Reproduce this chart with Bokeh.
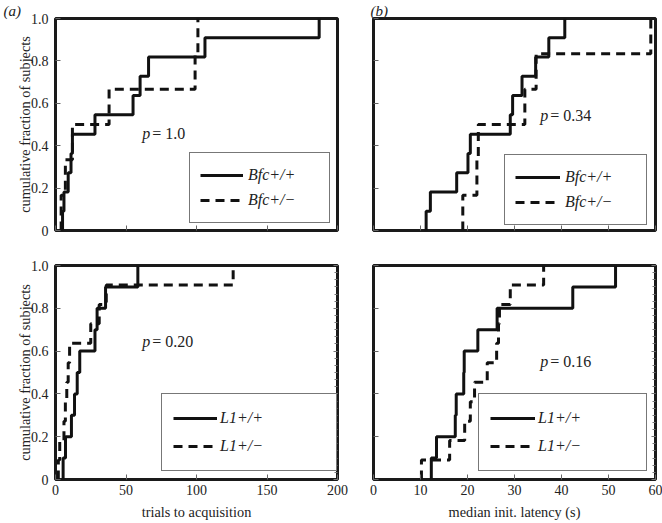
from bokeh.plotting import figure
from bokeh.layouts import gridplot
from bokeh.models import (Range1d, Legend, LegendItem, Label, LinearAxis,
                          FixedTicker, SingleIntervalTicker, Title)
from bokeh.embed import file_html
from bokeh.resources import INLINE

FONT = "'Liberation Serif', 'DejaVu Serif', serif"

# ---- data ----
bfc_wt_trials = [5, 6, 9, 11, 12, 28, 55, 60, 66, 106, 187]
bfc_het_trials = [4, 7, 12, 38, 99, 101]
bfc_wt_latency = [11.2, 12.1, 17.7, 20.1, 20.6, 29.1, 29.6, 31.6, 34.5, 37.3, 40.7]
bfc_het_latency = [19.0, 22.0, 22.3, 32.2, 34.6, 59.0]
l1_wt_trials = [5.4, 7.1, 11.3, 13.5, 15.4, 17.2, 28.0, 29.5, 35.5, 58.4]
l1_het_trials = [2, 3, 6, 7, 8, 9, 10, 25, 31, 36, 126]
l1_wt_latency = [12.3, 13.4, 17.4, 17.6, 19.2, 19.3, 22.2, 26.3, 42.4, 51.5]
l1_het_latency = [10.2, 16.2, 19.4, 20.6, 21.5, 24.2, 26.2, 26.6, 26.8, 29.1, 36.2]

bfc_names = ["Bfc+/+", "Bfc+/\u2212"]
l1_names = ["L1+/+", "L1+/\u2212"]
p_values = ["1.0", "0.34", "0.20", "0.16"]

y_ticks = [0, 0.2, 0.4, 0.6, 0.8, 1.0]
y_tick_labels = {0: "0", 1: "1.0"}
trial_ticks = [0, 50, 100, 150, 200]
latency_ticks = [0, 10, 20, 30, 40, 50, 60]
trial_range = (0, 200)
latency_range = (0, 60)


def ecdf(vals):
    xs = sorted(vals)
    n = len(xs)
    return [xs[0]] + xs, [0.0] + [(i + 1) / n for i in range(n)]


def hide_labels(ax):
    ax.major_label_text_color = None
    ax.major_label_text_font_size = "1px"
    ax.major_label_standoff = 0


def make_panel(width, height, mb, xr, xticks, wt, het, names, ptxt, ppos,
               leg, show_x, show_y, xlabel, minor_right, tag, tag_off):
    p = figure(width=width, height=height, output_backend="svg",
               toolbar_location=None, x_range=Range1d(*xr),
               y_range=Range1d(0, 1),
               min_border_left=mb[0], min_border_right=mb[1],
               min_border_top=mb[2], min_border_bottom=mb[3])
    p.grid.visible = False
    p.outline_line_color = "#1a1a1a"
    p.outline_line_width = 3
    p.outline_line_alpha = 1
    p.background_fill_color = "white"
    p.border_fill_color = "white"

    xa = p.xaxis[0]
    ya = p.yaxis[0]
    xa.ticker = FixedTicker(ticks=xticks)
    ya.ticker = FixedTicker(ticks=y_ticks)
    for ax in (xa, ya):
        ax.axis_line_color = None
        ax.major_tick_in = 5
        ax.major_tick_out = 0
        ax.minor_tick_in = 0
        ax.minor_tick_out = 0
        ax.major_tick_line_color = "#666"
        ax.major_label_text_font = FONT
        ax.major_label_text_font_size = "14px"
        ax.major_label_text_color = "#222"
        ax.axis_label_text_font = FONT
        ax.axis_label_text_font_style = "normal"
        ax.axis_label_text_font_size = "14.3px"
        ax.axis_label_text_color = "#222"
    ya.major_label_overrides = dict(y_tick_labels)
    if show_x:
        xa.axis_label = xlabel
        xa.major_label_standoff = 5
        xa.axis_label_standoff = 6
    else:
        hide_labels(xa)
    if show_y:
        ya.axis_label = "cumulative fraction of subjects"
        ya.major_label_standoff = 7
        ya.axis_label_standoff = -5
    else:
        hide_labels(ya)

    if minor_right:
        ra = LinearAxis(ticker=SingleIntervalTicker(interval=0.2, num_minor_ticks=6))
        ra.axis_line_color = None
        hide_labels(ra)
        ra.major_tick_in = 4
        ra.major_tick_out = 0
        ra.minor_tick_in = 3
        ra.minor_tick_out = 0
        ra.major_tick_line_color = "#777"
        ra.minor_tick_line_color = "#777"
        p.add_layout(ra, "right")

    if tag:
        p.add_layout(Title(text=tag, align="left", offset=tag_off, standoff=0,
                           text_font=FONT, text_font_style="italic",
                           text_font_size="15px", text_color="#222"), "above")

    x1, y1 = ecdf(wt)
    x2, y2 = ecdf(het)
    r1 = p.step(x1, y1, mode="after", line_color="#111", line_width=3)
    r2 = p.step(x2, y2, mode="after", line_color="#111", line_width=3,
                line_dash="9 6")

    p.add_layout(Label(x=ppos[0], y=ppos[1], text="p", text_font=FONT,
                       text_font_style="italic", text_font_size="16px",
                       text_color="#222", text_baseline="middle"))
    p.add_layout(Label(x=ppos[0], y=ppos[1], x_offset=10, text="= " + ptxt,
                       text_font=FONT, text_font_size="16px",
                       text_color="#222", text_baseline="middle"))

    lx, ly, pad, gh, sp, gw, so, lw = leg
    legend = Legend(items=[LegendItem(label=names[0], renderers=[r1]),
                           LegendItem(label=names[1], renderers=[r2])],
                    location=(lx, ly), padding=pad, spacing=sp,
                    glyph_height=gh, glyph_width=gw, label_standoff=so,
                    label_width=lw, margin=0, border_line_color="#777",
                    border_line_width=1, border_line_alpha=1,
                    background_fill_color="white", background_fill_alpha=1,
                    label_text_font=FONT, label_text_font_style="italic",
                    label_text_font_size="16px", label_text_color="#222")
    p.add_layout(legend)
    return p


# top row: frames at y 15..230 ; bottom row: frames at y 265..480
pa = make_panel(355, 257, (55, 18, 15, 27), trial_range, trial_ticks,
                bfc_wt_trials, bfc_het_trials, bfc_names, p_values[0],
                (61.5, 0.457), (134, 7, 10, 24, 1, 43, 5, 71),
                False, True, "", False, "(a)", -52)
pb = make_panel(307, 257, (18, 7, 15, 27), latency_range, latency_ticks,
                bfc_wt_latency, bfc_het_latency, bfc_names, p_values[1],
                (35.5, 0.544), (131, 5, 10, 24, 1, 45, 5, 71),
                False, False, "", False, "(b)", -3)
pc = make_panel(355, 265, (55, 18, 8, 42), trial_range, trial_ticks,
                l1_wt_trials, l1_het_trials, l1_names, p_values[2],
                (61.5, 0.647), (106, 8, 11, 26, 2, 44, 3, 105),
                True, True, "trials to acquisition", True, None, None)
pd_ = make_panel(307, 265, (18, 7, 8, 42), latency_range, latency_ticks,
                 l1_wt_latency, l1_het_latency, l1_names, p_values[3],
                 (35.5, 0.553), (105, 8, 11, 26, 2, 45, 3, 97),
                 True, False, "median init. latency (s)", True, None, None)

layout = gridplot([[pa, pb], [pc, pd_]], toolbar_location=None)

open("out.html", "w").write(file_html(layout, INLINE))
